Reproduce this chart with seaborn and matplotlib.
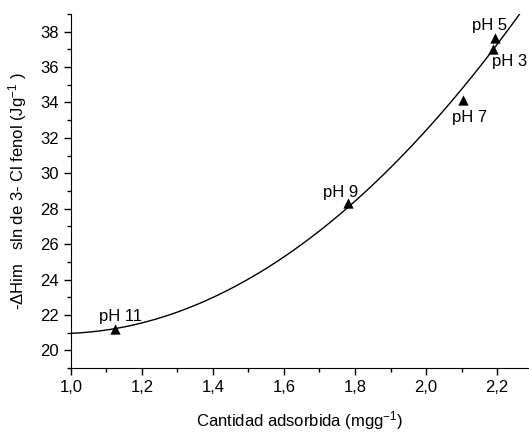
import numpy as np
import pandas as pd
import seaborn as sns
import matplotlib.pyplot as plt
from matplotlib.ticker import MultipleLocator, FuncFormatter

# values
labels = ['pH 11', 'pH 9', 'pH 7', 'pH 3', 'pH 5']
cantidad = [1.125, 1.78, 2.105, 2.19, 2.195]
dH = [21.2, 28.3, 34.15, 37.0, 37.65]
# label offsets (pixels) relative to each point
offsets = [(5, 13), (-7, 11), (6, -18), (16, -12), (-6, 12)]

df = pd.DataFrame({'x': cantidad, 'y': dH, 'label': labels})

sns.set_style('ticks')
plt.rcParams['font.family'] = ['Liberation Sans', 'DejaVu Sans']
plt.rcParams['mathtext.fontset'] = 'custom'
plt.rcParams['mathtext.rm'] = 'Liberation Sans'
plt.rcParams['mathtext.it'] = 'Liberation Sans'
for k in ['text.color', 'axes.labelcolor', 'xtick.color', 'ytick.color', 'axes.edgecolor']:
    plt.rcParams[k] = 'black'

fig = plt.figure(figsize=(5.29, 4.32), dpi=100)
ax = fig.add_axes([0.134, 0.148, 0.866, 0.82])
ax.set_xlim(1.0, 2.29)
ax.set_ylim(19, 39)

sns.regplot(data=df, x='x', y='y', order=2, ci=None, truncate=False, ax=ax,
            marker='^', color='black',
            scatter_kws={'s': 55, 'alpha': 1, 'zorder': 3, 'linewidths': 0},
            line_kws={'color': 'black', 'lw': 1})

for _, row in df.iterrows():
    dx, dy = offsets[labels.index(row['label'])]
    ax.annotate(row['label'], (row['x'], row['y']), xytext=(dx, dy),
                textcoords='offset pixels', ha='center', va='center', fontsize=12)

ax.set_xlim(1.0, 2.29)
ax.set_ylim(19, 39)
ax.xaxis.set_major_locator(MultipleLocator(0.2))
ax.xaxis.set_minor_locator(MultipleLocator(0.1))
ax.yaxis.set_major_locator(MultipleLocator(2))
ax.yaxis.set_minor_locator(MultipleLocator(1))
ax.xaxis.set_major_formatter(FuncFormatter(lambda v, p: f'{v:.1f}'.replace('.', ',')))
ax.tick_params(which='major', length=5, width=1, labelsize=12, direction='out')
ax.tick_params(which='minor', length=3, width=1, direction='out')
sns.despine(ax=ax)

ax.set_xlabel('Cantidad adsorbida (mgg$^{-1}$)', fontsize=12, labelpad=10)
ax.set_ylabel('-$\\Delta$Him   sln de 3- Cl fenol (Jg$^{-1}$ )', fontsize=12, labelpad=8)

fig.savefig('out.png', dpi=100)
